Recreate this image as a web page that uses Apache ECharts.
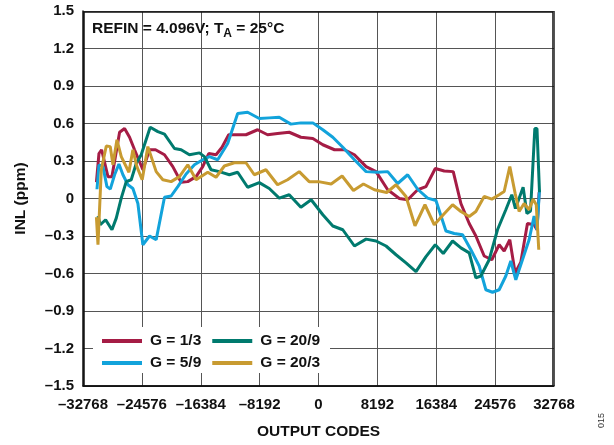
<!DOCTYPE html>
<html>
<head>
<meta charset="utf-8">
<script src="https://cdn.jsdelivr.net/npm/echarts@6/dist/echarts.min.js"></script>
<style>html,body{margin:0;padding:0;background:#fff;}#c{width:614px;height:445px;}</style>
</head>
<body>
<div id="c"></div>
<script>
// G = 1/3
var redX = [-30900,-30546,-30176,-29297,-28741,-27677,-26983,-26288,-25594,-24437,-23512,-22679,-21429,-20272,-19115,-18189,-17032,-16107,-15274,-14256,-13423,-12497,-11478,-10090,-8471,-7082,-5694,-4074,-2454,-787,602,2222,3611,5000,6620,8009,9629,11249,12407,13796,14953,16249,17499,18749,19814,20971,21897,23054,24119,25137,25832,26619,27360,28147,29073,30000,30400,30700];
var redY = [0.13,0.36,0.39,0.175,0.175,0.53,0.56,0.49,0.39,0.23,0.39,0.39,0.35,0.255,0.13,0.135,0.175,0.255,0.36,0.35,0.41,0.51,0.51,0.51,0.55,0.51,0.52,0.53,0.49,0.48,0.43,0.39,0.39,0.35,0.255,0.215,0.07,0.0,-0.01,0.07,0.095,0.24,0.22,0.215,-0.04,-0.2,-0.3,-0.46,-0.49,-0.37,-0.42,-0.33,-0.595,-0.51,-0.2,-0.21,-0.25,0.05];
// G = 5/9
var blueX = [-30824,-30546,-29991,-29436,-28973,-28371,-27769,-27214,-26520,-25826,-25131,-24437,-23512,-22586,-21429,-20503,-19578,-18420,-17264,-16107,-15181,-14024,-12636,-11247,-9859,-8240,-6851,-5463,-3843,-2454,-787,602,1991,3380,5000,6620,8240,9629,11019,12407,13796,15185,16342,17731,18888,20046,21203,22360,23286,24212,25137,26063,26758,27453,28379,29305,30000,30400,30750];
var blueY = [0.074,0.27,0.255,0.095,0.075,0.19,0.276,0.19,0.11,0.08,-0.04,-0.37,-0.3,-0.33,0.01,0.02,0.095,0.196,0.27,0.31,0.335,0.31,0.44,0.68,0.69,0.64,0.645,0.65,0.595,0.605,0.605,0.55,0.49,0.41,0.31,0.215,0.21,0.215,0.12,0.19,0.074,0.003,-0.016,-0.26,-0.28,-0.29,-0.41,-0.54,-0.73,-0.75,-0.73,-0.62,-0.5,-0.65,-0.49,-0.33,-0.14,-0.25,0.07];
// G = 20/9
var greenX = [-30685,-30361,-29621,-28741,-28139,-27445,-26751,-26057,-25363,-24669,-23419,-22355,-21429,-20040,-19115,-17958,-16569,-15876,-14950,-13793,-12404,-11247,-9859,-8240,-6851,-5463,-4074,-2454,-1018,602,1991,3380,5000,6620,8009,9397,10786,12175,13565,14953,16249,17360,18657,19814,20971,21897,22592,23749,24906,26063,26900,27400,28471,29000,29500,30100,30400,30750];
var greenY = [-0.14,-0.21,-0.17,-0.25,-0.157,0.003,0.135,0.15,0.28,0.35,0.57,0.535,0.515,0.4,0.39,0.35,0.365,0.335,0.23,0.215,0.19,0.21,0.09,0.127,0.08,0.003,0.03,-0.07,-0.01,-0.13,-0.22,-0.25,-0.38,-0.325,-0.34,-0.38,-0.45,-0.515,-0.585,-0.465,-0.37,-0.44,-0.34,-0.395,-0.435,-0.635,-0.62,-0.49,-0.25,-0.09,0.03,-0.08,0.09,-0.12,-0.1,0.56,0.56,0.05];
// G = 20/3
var goldX = [-30900,-30685,-30222,-29528,-28973,-28602,-28047,-27445,-26381,-25826,-25270,-24530,-23743,-22586,-21660,-20503,-19346,-18189,-17032,-15412,-14256,-13099,-11710,-10090,-8933,-7314,-5694,-4306,-2686,-1298,0,1760,3287,4861,6250,7778,9490,10786,12175,13425,14814,16110,17360,18657,19814,20971,21897,23054,24119,25137,25832,26619,27360,27916,28610,29305,29861,30300,30648];
var goldY = [-0.15,-0.37,0.23,0.42,0.415,0.27,0.47,0.335,0.21,0.39,0.255,0.15,0.415,0.215,0.15,0.135,0.175,0.27,0.15,0.21,0.17,0.26,0.286,0.286,0.19,0.23,0.11,0.15,0.215,0.135,0.135,0.116,0.18,0.064,0.116,0.07,0.048,0.11,0.016,-0.218,-0.05,-0.21,-0.13,-0.05,-0.104,-0.144,-0.104,0.016,-0.005,0.03,0.056,0.255,0.042,-0.104,-0.04,-0.09,-0.005,-0.05,-0.41];

var xTicks = [-32768,-24576,-16384,-8192,0,8192,16384,24576,32768];
var yTicks = [-1.5,-1.2,-0.9,-0.6,-0.3,0,0.3,0.6,0.9,1.2,1.5];
var seriesNames = ['G = 1/3','G = 5/9','G = 20/9','G = 20/3'];
var seriesColors = ['#A51C45','#12A3DB','#007A6E','#C89B31'];

function pairs(xs, ys){ return xs.map(function(x,i){ return [x, ys[i]]; }); }
var allX = [redX, blueX, greenX, goldX];
var allY = [redY, blueY, greenY, goldY];

var FONT = '"Liberation Sans", Arial, sans-serif';
function dash(s){ return String(s).replace('-', '\u2013'); }

var chart = echarts.init(document.getElementById('c'), null, {renderer:'canvas'});
var series = seriesNames.map(function(n, i){
  return {
    name: n, type: 'line', data: pairs(allX[i], allY[i]),
    showSymbol: false, symbol: 'none', smooth: false,
    lineStyle: {width: 3, color: seriesColors[i]},
    itemStyle: {color: seriesColors[i]},
    z: 2, animation: false
  };
});

var legendCommon = {
  left: 97, orient: 'horizontal', itemWidth: 40, itemHeight: 4, itemGap: 11,
  icon: 'rect',
  textStyle: {fontFamily: FONT, fontWeight: 'bold', fontSize: 15.5, color: '#111', padding: [0, 0, 0, 3]},
  z: 10
};

chart.setOption({
  animation: false,
  backgroundColor: '#fff',
  grid: {left: 83, right: 60, top: 11, bottom: 58, containLabel: false},
  xAxis: {
    type: 'value', min: -32768, max: 32768, interval: 8192,
    name: 'OUTPUT CODES', nameLocation: 'middle', nameGap: 38,
    nameTextStyle: {fontFamily: FONT, fontWeight: 'bold', fontSize: 15.5, color: '#111'},
    axisLine: {show: true, onZero: false, lineStyle: {color: '#111', width: 1.5}},
    axisTick: {show: false},
    axisLabel: {fontFamily: FONT, fontWeight: 'bold', fontSize: 15, color: '#111', margin: 11,
      showMinLabel: true, showMaxLabel: true,
      formatter: function(v){ return dash(v); }},
    splitLine: {show: true, lineStyle: {color: '#555', width: 1}}
  },
  yAxis: {
    type: 'value', min: -1.5, max: 1.5, interval: 0.3,
    name: 'INL (ppm)', nameLocation: 'middle', nameGap: 54, nameRotate: 90,
    nameTextStyle: {fontFamily: FONT, fontWeight: 'bold', fontSize: 15.5, color: '#111'},
    axisLine: {show: true, onZero: false, lineStyle: {color: '#111', width: 1.5}},
    axisTick: {show: false},
    axisLabel: {fontFamily: FONT, fontWeight: 'bold', fontSize: 15, color: '#111', margin: 9,
      formatter: function(v){ var s = v.toFixed(1); if (s === '0.0' || s === '-0.0') return '0'; return dash(s); }},
    splitLine: {show: true, lineStyle: {color: '#555', width: 1}}
  },
  legend: [
    Object.assign({}, legendCommon, {top: 328, data: [seriesNames[0], seriesNames[2]]}),
    Object.assign({}, legendCommon, {top: 350, data: [seriesNames[1], seriesNames[3]]})
  ],
  graphic: [
    {type: 'rect', z: 5, shape: {x: 93, y: 327, width: 237, height: 46}, style: {fill: '#fff'}},
    {type: 'rect', z: 5, shape: {x: 84, y: 12, width: 469, height: 374}, style: {fill: 'none', stroke: '#111', lineWidth: 1.5}},
    {type: 'text', z: 6, left: 92, top: 21,
      style: {
        text: '{a|REFIN = 4.096V; T}{s|A}{a| = 25\u00B0C}',
        rich: {
          a: {fontFamily: FONT, fontWeight: 'bold', fontSize: 15.5, fill: '#111', lineHeight: 19, verticalAlign: 'top'},
          s: {fontFamily: FONT, fontWeight: 'bold', fontSize: 12, fill: '#111', lineHeight: 19, verticalAlign: 'top', padding: [7, 0, 0, 0]}
        }
      }},
    {type: 'text', z: 6, left: 597, top: 413, rotation: Math.PI/2,
      style: {text: '015', fontFamily: FONT, fontSize: 9, fill: '#333'}}
  ],
  series: series
});
</script>
</body>
</html>
